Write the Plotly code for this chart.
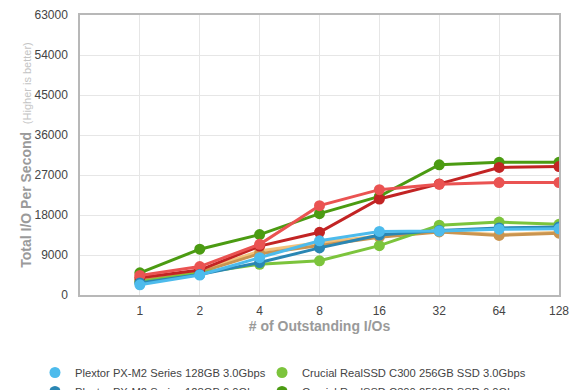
import plotly.graph_objects as go

outstanding_ios = [1, 2, 4, 8, 16, 32, 64, 128]
y_ticks = [0, 9000, 18000, 27000, 36000, 45000, 54000, 63000]

plextor_3g = [2300, 4500, 8400, 12200, 14300, 14400, 14800, 14900]
plextor_6g = [2700, 4600, 7300, 10600, 13500, 14500, 15100, 15300]
crucial_3g = [3000, 4900, 6900, 7700, 11100, 15700, 16400, 15900]
crucial_6g = [5000, 10300, 13600, 18300, 22200, 29300, 29850, 29850]
intel_3g = [3500, 5400, 9900, 11800, 13300, 14300, 13600, 14100]
intel_6g = [3200, 5100, 9300, 11200, 13000, 14200, 13400, 13900]
ocz_3g = [4400, 6400, 11400, 20100, 23700, 24900, 25300, 25300]
ocz_6g = [3900, 5600, 11000, 14100, 21600, 25000, 28700, 28900]

series = [
    # (name, values, color, legend column, legend rank)
    ("Intel X25-M G2 160GB 3.0Gbps", intel_3g, "#f2c27c", "legend", 3),
    ("Intel X25-M G2 160GB 6.0Gbps", intel_6g, "#c99450", "legend", 4),
    ("Crucial RealSSD C300 256GB SSD 3.0Gbps", crucial_3g, "#7cc43c", "legend2", 1),
    ("Crucial RealSSD C300 256GB SSD 6.0Gbps", crucial_6g, "#4b9b12", "legend2", 2),
    ("OCZ Vertex 2 120GB 6.0Gbps", ocz_6g, "#c22424", "legend2", 4),
    ("OCZ Vertex 2 120GB 3.0Gbps", ocz_3g, "#ea5352", "legend2", 3),
    ("Plextor PX-M2 Series 128GB 6.0Gbps", plextor_6g, "#2a86b3", "legend", 2),
    ("Plextor PX-M2 Series 128GB 3.0Gbps", plextor_3g, "#4dbbec", "legend", 1),
]

fig = go.Figure()
for name, vals, color, leg, rank in series:
    fig.add_trace(go.Scatter(
        x=outstanding_ios, y=vals, mode="lines+markers", name=name,
        line=dict(color=color, width=3),
        marker=dict(color=color, size=11),
        showlegend=False, hoverinfo="x+y+name",
    ))
for name, vals, color, leg, rank in series:
    fig.add_trace(go.Scatter(
        x=[None], y=[None], mode="markers", name=name,
        marker=dict(color=color, size=11),
        legend=leg, legendrank=rank, showlegend=True,
    ))

legend_style = dict(
    orientation="v", xanchor="left", y=-0.225, yanchor="top",
    traceorder="normal", font=dict(size=11.2, color="#444444"),
    itemwidth=30, bgcolor="rgba(0,0,0,0)",
)

fig.update_layout(
    width=572, height=382,
    margin=dict(l=72, r=21, t=7, b=95, autoexpand=False),
    paper_bgcolor="white", plot_bgcolor="white",
    font=dict(family="Liberation Sans, Arial, sans-serif", color="#555555", size=12),
    legend=dict(x=-0.094, **legend_style),
    legend2=dict(x=0.38, **legend_style),
    showlegend=True,
)
fig.update_xaxes(
    type="log", range=[-0.30103, 2.10721],
    tickvals=outstanding_ios, ticktext=[str(v) for v in outstanding_ios],
    showgrid=True, gridcolor="#e6e6e6", gridwidth=1,
    showline=True, linecolor="#b8b8b8", linewidth=1.5, mirror=True,
    zeroline=False, ticks="", ticklabelstandoff=4,
    tickfont=dict(size=12, color="#444444"),
    title=dict(text="# of Outstanding I/Os", font=dict(size=14, color="#9a9a9a", weight="bold"), standoff=4),
)
fig.update_yaxes(
    range=[0, 63000], tickvals=y_ticks, ticktext=[str(v) for v in y_ticks],
    showgrid=True, gridcolor="#e6e6e6", gridwidth=1,
    showline=True, linecolor="#b8b8b8", linewidth=1.5, mirror=True,
    zeroline=False, ticks="", ticklabelstandoff=8,
    tickfont=dict(size=12, color="#444444"),
    title=dict(
        text="Total I/O Per Second  <span style='font-size:11px;color:#c4c4c4;font-weight:normal'>(Higher is better)</span>",
        font=dict(size=14, color="#9a9a9a", weight="bold"), standoff=0,
    ),
)

fig.write_html("out.html")
